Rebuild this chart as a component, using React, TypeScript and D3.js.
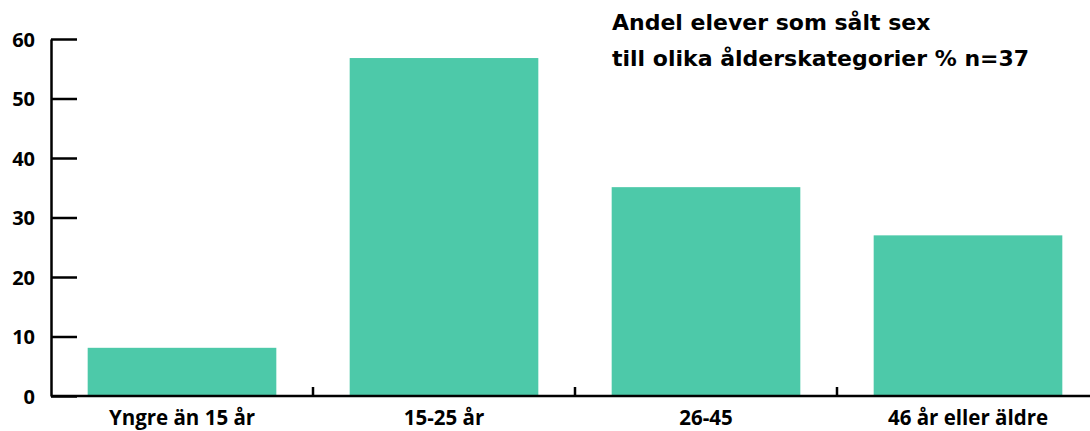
import React, { useEffect, useRef } from 'react'
import { select, scaleBand, scaleLinear, axisLeft, axisBottom } from 'd3'

const categories = ['Yngre än 15 år', '15-25 år', '26-45', '46 år eller äldre']
const shares = [8.1, 56.8, 35.1, 27.0]
const yTicks = [0, 10, 20, 30, 40, 50, 60]
const titleLines = ['Andel elever som sålt sex', 'till olika ålderskategorier % n=37']

const WIDTH = 1090
const HEIGHT = 431
const LEFT = 51
const BOTTOM = 396
const TOP = 39
const BAR = '#4dc9a9'
const TICK_FONT = '"Open Sans", "DejaVu Sans", sans-serif'

export default function App(): JSX.Element {
  const svgRef = useRef<SVGSVGElement | null>(null)

  useEffect(() => {
    const svg = select(svgRef.current)
    svg.selectAll('*').remove()

    const x = scaleBand<string>()
      .domain(categories)
      .range([LEFT, LEFT + 4 * 262])
      .paddingInner(0.28)
      .paddingOuter(0.14)

    const y = scaleLinear().domain([0, 60]).range([BOTTOM, TOP])

    // bars
    svg
      .append('g')
      .selectAll('rect')
      .data(shares)
      .join('rect')
      .attr('x', (_d, i) => x(categories[i]) as number)
      .attr('width', x.bandwidth())
      .attr('y', (d) => y(d))
      .attr('height', (d) => y(0) - y(d))
      .attr('fill', BAR)

    // y axis, ticks point inwards
    const gy = svg
      .append('g')
      .attr('transform', `translate(${LEFT},0)`)
      .call(axisLeft(y).tickValues(yTicks).tickSize(-26).tickPadding(16).tickSizeOuter(0))
    gy.select('.domain').attr('stroke', '#000').attr('stroke-width', 2.5)
    gy.selectAll('.tick line').attr('stroke', '#000').attr('stroke-width', 2.5)
    gy.selectAll('.tick text')
      .attr('fill', '#000')
      .attr('font-family', TICK_FONT)
      .attr('font-weight', 700)
      .attr('font-size', 20)
      .attr('dy', '0.35em')

    // x axis: line to the edge, divider ticks between categories
    const gx = svg.append('g').attr('transform', `translate(0,${BOTTOM})`)
    gx.append('line')
      .attr('x1', LEFT)
      .attr('x2', WIDTH)
      .attr('stroke', '#000')
      .attr('stroke-width', 2.5)
    const step = x.step()
    gx.selectAll('line.div')
      .data(categories.slice(1))
      .join('line')
      .attr('class', 'div')
      .attr('x1', (d) => (x(d) as number) - (step - x.bandwidth()) / 2)
      .attr('x2', (d) => (x(d) as number) - (step - x.bandwidth()) / 2)
      .attr('y1', 0)
      .attr('y2', -9)
      .attr('stroke', '#000')
      .attr('stroke-width', 2.5)

    const ax = svg
      .append('g')
      .attr('transform', `translate(0,${BOTTOM})`)
      .call(axisBottom(x).tickSize(0).tickPadding(14))
    ax.select('.domain').remove()
    ax.selectAll('.tick text')
      .attr('fill', '#000')
      .attr('font-family', TICK_FONT)
      .attr('font-weight', 700)
      .attr('font-size', 20.5)

    // title
    svg
      .append('g')
      .selectAll('text')
      .data(titleLines)
      .join('text')
      .attr('x', 612)
      .attr('y', (_d, i) => 30 + i * 36)
      .attr('font-family', '"DejaVu Sans"')
      .attr('font-weight', 700)
      .attr('font-size', 22)
      .attr('fill', '#000')
      .text((d) => d)
  }, [])

  return (
    <svg
      ref={svgRef}
      width={WIDTH}
      height={HEIGHT}
      style={{ position: 'absolute', left: 0, top: 0, background: '#fff' }}
      xmlns="http://www.w3.org/2000/svg"
    />
  )
}
